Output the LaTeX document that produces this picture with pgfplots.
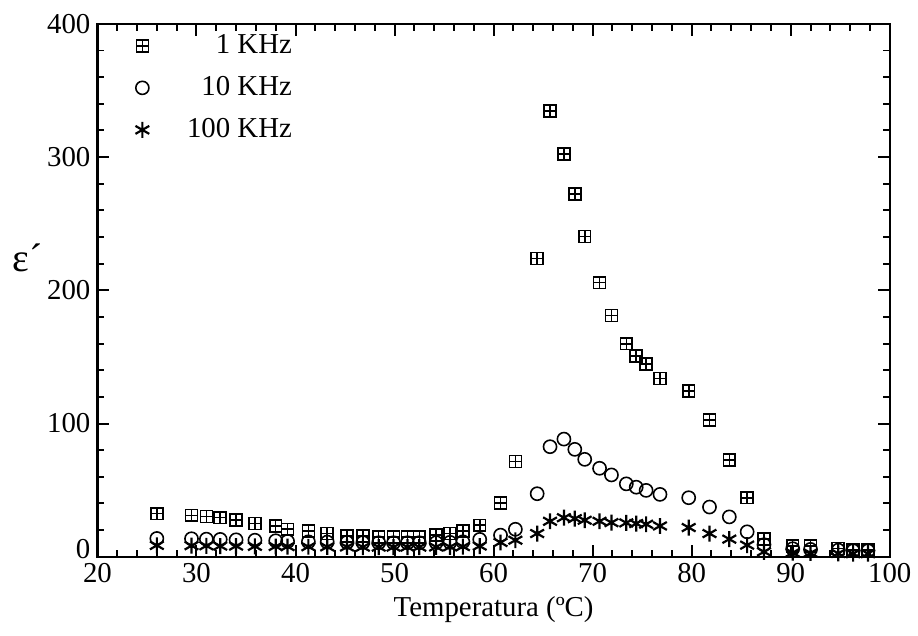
\documentclass[border=0pt]{standalone}
\usepackage{fontspec}
\setmainfont{Liberation Serif}
\usepackage{pgfplots}
\usepackage{pgfplotstable}
\pgfplotsset{compat=1.18}

\pgfdeclareplotmark{boxplus}{%
  \pgfpathrectangle{\pgfqpoint{-\pgfplotmarksize}{-\pgfplotmarksize}}{\pgfqpoint{2\pgfplotmarksize}{2\pgfplotmarksize}}%
  \pgfpathmoveto{\pgfqpoint{-\pgfplotmarksize}{0pt}}\pgfpathlineto{\pgfqpoint{\pgfplotmarksize}{0pt}}%
  \pgfpathmoveto{\pgfqpoint{0pt}{-\pgfplotmarksize}}\pgfpathlineto{\pgfqpoint{0pt}{\pgfplotmarksize}}%
  \pgfusepathqstroke}

\pgfplotstableread{
T     a      b     c
26.0  32.3   13.7  8.5
29.5  31.1   13.5  8.3
31.0  30.3   13.2  8.2
32.4  29.3   13.0  8.0
34.0  27.4   12.7  8.0
35.9  24.9   12.4  7.8
38.0  22.9   12.0  7.7
39.2  20.6   11.5  7.6
41.3  19.4   11.2  7.5
43.2  17.4   11.0  7.4
45.2  15.7   10.8  7.3
46.8  15.7   10.6  7.2
48.4  14.9   10.5  7.2
49.9  14.9   10.5  7.2
51.3  14.9   10.5  7.2
52.5  14.9   10.5  7.2
54.2  16.2   10.6  7.3
55.6  17.4   10.8  7.4
56.9  19.4   11.2  7.6
58.6  23.6   13.0  8.0
60.7  40.3   16.2  10.7
62.2  71.6   20.6  12.4
64.4  223.9  47.3  17.4
65.7  334.6  82.6  26.6
67.1  302.2  88.3  29.3
68.2  272.4  80.6  28.6
69.2  240.5  73.1  27.4
70.7  205.7  66.4  26.6
71.9  181.1  61.4  25.6
73.4  159.9  54.7  25.4
74.4  150.5  52.2  24.9
75.4  144.8  49.8  24.4
76.8  133.8  46.8  23.1
79.7  124.4  44.3  21.9
81.8  102.5  37.3  17.4
83.8  72.6   29.9  13.2
85.6  44.3   18.7  8.7
87.3  13.2   9.0   3.7
90.2  8.2    6.0   3.0
92.0  8.0    5.5   2.8
94.8  6.2    5.0   2.5
96.3  5.0    4.5   2.3
97.8  5.0    4.5   2.3
}\datatable

\begin{document}
\begin{tikzpicture}
\begin{axis}[
  scale only axis,
  width=398.5pt, height=268pt,
  xmin=20, xmax=100, ymin=0, ymax=400,
  xtick={20,30,...,100}, ytick={100,200,...,400},
  extra y ticks={0},
  extra y tick style={yticklabel style={yshift=4pt}},
  minor xtick={22,24,...,98}, minor ytick={20,40,...,380},
  tick align=inside,
  major tick length=6pt, minor tick length=3.5pt,
  axis line style={line width=1.2pt},
  every tick/.style={black, line width=1pt},
  tick label style={font=\fontsize{14.5}{17}\selectfont},
  /pgf/number format/assume math mode=true,
  xlabel={Temperatura (ºC)},
  xlabel style={font=\fontsize{14.5}{17}\selectfont, yshift=0pt},
  legend style={draw=none, fill=none, at={(rel axis cs:0.04,0.995)}, anchor=north west,
    font=\fontsize{14.5}{17}\selectfont, row sep=6pt, column sep=17pt},
  legend cell align=right,
  clip=false,
]
\addplot[only marks, mark=boxplus, mark size=3pt, line width=0.8pt] table[x=T, y=a] {\datatable};
\addlegendentry{1 KHz}
\addplot[only marks, mark=o, mark size=3.3pt, line width=0.8pt] table[x=T, y=b] {\datatable};
\addlegendentry{10 KHz}
\addplot[only marks, mark=asterisk, mark size=4pt, line width=1.1pt] table[x=T, y=c] {\datatable};
\addlegendentry{100 KHz}
\node at (rel axis cs:-0.088,0.56) {\fontsize{20}{22}\selectfont ε´};
\end{axis}
\path (current axis.south west) +(-49pt,-39.5pt) (current axis.north east) +(11.5pt,12pt);
\end{tikzpicture}
\end{document}
